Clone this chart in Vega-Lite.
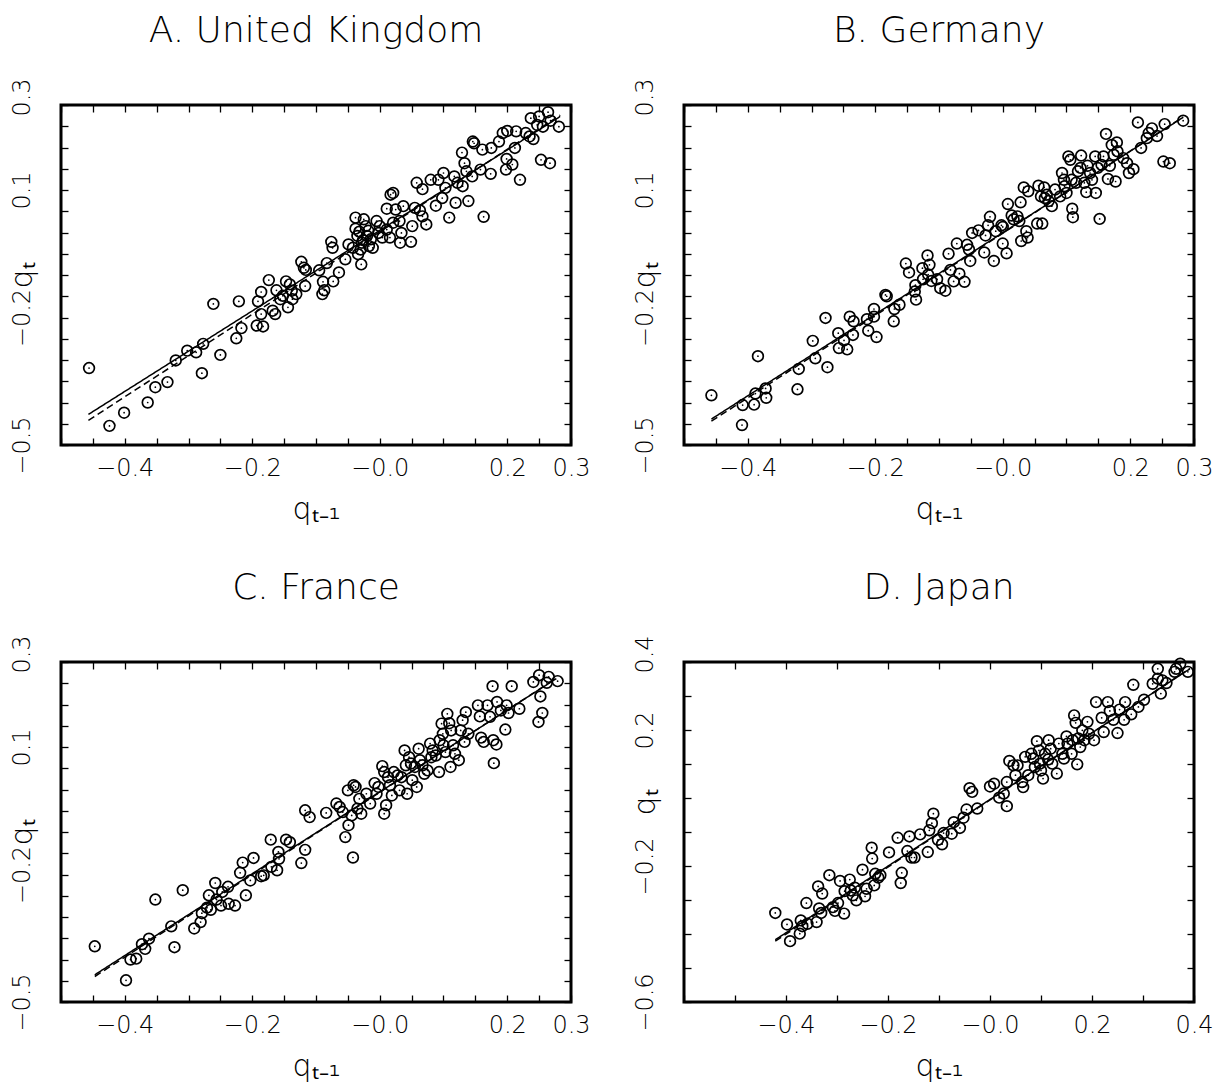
{
  "$schema": "https://vega.github.io/schema/vega-lite/v6.json",
  "background": "white",
  "padding": {"left": 5, "top": 11, "right": 5, "bottom": 2},
  "config": {
    "font": "DejaVu Sans",
    "view": {"stroke": "black", "strokeWidth": 3},
    "axis": {"domain": false, "grid": false, "tickColor": "black", "tickWidth": 1.3, "tickSize": -7, "labelFont": "DejaVu Sans", "labelFontSize": 24, "labelFontWeight": 200, "labelColor": "black", "titleFont": "DejaVu Sans", "titleFontSize": 30, "titleFontWeight": 200, "titleColor": "black", "labelFlush": false, "labelOverlap": false, "labelBound": false},
    "title": {"font": "DejaVu Sans", "fontSize": 36, "fontWeight": 200, "color": "black", "anchor": "middle", "frame": "group", "offset": 28},
    "line": {"color": "black", "strokeWidth": 1.5}
  },
  "columns": 2,
  "spacing": {"row": 217, "column": 113},
  "bounds": "flush",
  "datasets": {
    "uk": [{"x":-0.456,"y":-0.319},{"x":-0.424,"y":-0.455},{"x":-0.401,"y":-0.424},{"x":-0.364,"y":-0.4},{"x":-0.352,"y":-0.364},{"x":-0.333,"y":-0.352},{"x":-0.32,"y":-0.301},{"x":-0.302,"y":-0.278},{"x":-0.288,"y":-0.282},{"x":-0.277,"y":-0.262},{"x":-0.279,"y":-0.331},{"x":-0.25,"y":-0.288},{"x":-0.261,"y":-0.168},{"x":-0.221,"y":-0.162},{"x":-0.225,"y":-0.249},{"x":-0.217,"y":-0.225},{"x":-0.193,"y":-0.219},{"x":-0.183,"y":-0.221},{"x":-0.191,"y":-0.162},{"x":-0.186,"y":-0.192},{"x":-0.186,"y":-0.14},{"x":-0.174,"y":-0.112},{"x":-0.168,"y":-0.184},{"x":-0.164,"y":-0.192},{"x":-0.162,"y":-0.136},{"x":-0.156,"y":-0.157},{"x":-0.147,"y":-0.115},{"x":-0.144,"y":-0.176},{"x":-0.141,"y":-0.122},{"x":-0.138,"y":-0.137},{"x":-0.137,"y":-0.157},{"x":-0.152,"y":-0.149},{"x":-0.131,"y":-0.145},{"x":-0.123,"y":-0.069},{"x":-0.117,"y":-0.126},{"x":-0.119,"y":-0.083},{"x":-0.116,"y":-0.088},{"x":-0.095,"y":-0.089},{"x":-0.09,"y":-0.145},{"x":-0.087,"y":-0.136},{"x":-0.089,"y":-0.116},{"x":-0.083,"y":-0.072},{"x":-0.076,"y":-0.022},{"x":-0.074,"y":-0.036},{"x":-0.073,"y":-0.115},{"x":-0.064,"y":-0.094},{"x":-0.054,"y":-0.063},{"x":-0.049,"y":-0.028},{"x":-0.042,"y":-0.036},{"x":-0.038,"y":0.035},{"x":-0.038,"y":0.009},{"x":-0.035,"y":-0.008},{"x":-0.034,"y":-0.051},{"x":-0.029,"y":-0.075},{"x":-0.028,"y":-0.024},{"x":-0.025,"y":0.031},{"x":-0.022,"y":0.015},{"x":-0.02,"y":-0.008},{"x":-0.017,"y":-0.032},{"x":-0.014,"y":-0.016},{"x":-0.011,"y":-0.036},{"x":-0.005,"y":0.027},{"x":-0.002,"y":-0.001},{"x":0.004,"y":-0.012},{"x":0.011,"y":0.056},{"x":0.011,"y":0.007},{"x":0.016,"y":-0.012},{"x":0.017,"y":0.089},{"x":0.021,"y":0.093},{"x":0.021,"y":0.023},{"x":0.025,"y":0.054},{"x":0.031,"y":0.027},{"x":0.032,"y":-0.024},{"x":0.037,"y":0.062},{"x":0.034,"y":-0.001},{"x":0.049,"y":-0.022},{"x":0.051,"y":0.015},{"x":0.055,"y":0.058},{"x":0.058,"y":0.117},{"x":0.063,"y":0.052},{"x":0.067,"y":0.102},{"x":0.067,"y":0.038},{"x":0.073,"y":0.019},{"x":0.08,"y":0.124},{"x":0.088,"y":0.063},{"x":0.092,"y":0.124},{"x":0.1,"y":0.14},{"x":0.098,"y":0.081},{"x":0.103,"y":0.105},{"x":0.109,"y":0.035},{"x":0.117,"y":0.132},{"x":0.119,"y":0.07},{"x":0.122,"y":0.117},{"x":0.13,"y":0.109},{"x":0.129,"y":0.188},{"x":0.133,"y":0.163},{"x":0.136,"y":0.144},{"x":0.139,"y":0.074},{"x":0.146,"y":0.214},{"x":0.148,"y":0.21},{"x":0.145,"y":0.132},{"x":0.161,"y":0.195},{"x":0.163,"y":0.037},{"x":0.158,"y":0.148},{"x":0.174,"y":0.138},{"x":0.175,"y":0.199},{"x":0.187,"y":0.214},{"x":0.193,"y":0.234},{"x":0.2,"y":0.239},{"x":0.199,"y":0.173},{"x":0.198,"y":0.148},{"x":0.208,"y":0.16},{"x":0.214,"y":0.238},{"x":0.212,"y":0.199},{"x":0.22,"y":0.124},{"x":0.229,"y":0.234},{"x":0.235,"y":0.226},{"x":0.237,"y":0.269},{"x":0.241,"y":0.22},{"x":0.247,"y":0.253},{"x":0.25,"y":0.273},{"x":0.253,"y":0.171},{"x":0.264,"y":0.283},{"x":0.268,"y":0.263},{"x":0.267,"y":0.163},{"x":0.281,"y":0.249},{"x":0.256,"y":0.249},{"x":-0.032,"y":0.002},{"x":-0.026,"y":-0.018},{"x":-0.018,"y":0.004},{"x":-0.03,"y":-0.04},{"x":0.0,"y":0.015}],
    "uk_fit": [{"x":-0.457,"y":-0.428,"model":"linear"},{"x":0.283,"y":0.273,"model":"linear"},{"x":-0.457,"y":-0.442,"model":"nonlinear"},{"x":0.283,"y":0.276,"model":"nonlinear"}],
    "de": [{"x":-0.457,"y":-0.383},{"x":-0.409,"y":-0.453},{"x":-0.408,"y":-0.406},{"x":-0.39,"y":-0.405},{"x":-0.388,"y":-0.379},{"x":-0.384,"y":-0.291},{"x":-0.372,"y":-0.367},{"x":-0.371,"y":-0.389},{"x":-0.322,"y":-0.369},{"x":-0.32,"y":-0.321},{"x":-0.298,"y":-0.255},{"x":-0.294,"y":-0.296},{"x":-0.278,"y":-0.201},{"x":-0.275,"y":-0.317},{"x":-0.258,"y":-0.237},{"x":-0.257,"y":-0.272},{"x":-0.249,"y":-0.254},{"x":-0.244,"y":-0.275},{"x":-0.24,"y":-0.198},{"x":-0.235,"y":-0.241},{"x":-0.234,"y":-0.209},{"x":-0.213,"y":-0.204},{"x":-0.211,"y":-0.231},{"x":-0.202,"y":-0.18},{"x":-0.198,"y":-0.246},{"x":-0.202,"y":-0.198},{"x":-0.184,"y":-0.147},{"x":-0.182,"y":-0.15},{"x":-0.171,"y":-0.209},{"x":-0.17,"y":-0.18},{"x":-0.162,"y":-0.17},{"x":-0.152,"y":-0.073},{"x":-0.147,"y":-0.094},{"x":-0.138,"y":-0.139},{"x":-0.136,"y":-0.158},{"x":-0.137,"y":-0.124},{"x":-0.126,"y":-0.084},{"x":-0.125,"y":-0.11},{"x":-0.118,"y":-0.054},{"x":-0.115,"y":-0.076},{"x":-0.117,"y":-0.099},{"x":-0.112,"y":-0.114},{"x":-0.103,"y":-0.11},{"x":-0.098,"y":-0.131},{"x":-0.09,"y":-0.137},{"x":-0.085,"y":-0.05},{"x":-0.082,"y":-0.088},{"x":-0.077,"y":-0.115},{"x":-0.072,"y":-0.026},{"x":-0.068,"y":-0.097},{"x":-0.06,"y":-0.116},{"x":-0.056,"y":-0.029},{"x":-0.053,"y":-0.04},{"x":-0.051,"y":-0.067},{"x":-0.048,"y":-0.001},{"x":-0.038,"y":0.005},{"x":-0.029,"y":-0.047},{"x":-0.027,"y":-0.007},{"x":-0.023,"y":0.017},{"x":-0.02,"y":0.037},{"x":-0.014,"y":-0.067},{"x":-0.011,"y":0.003},{"x":-0.002,"y":0.017},{"x":0.0,"y":0.013},{"x":0.0,"y":-0.026},{"x":0.006,"y":-0.049},{"x":0.008,"y":0.067},{"x":0.014,"y":0.04},{"x":0.017,"y":0.031},{"x":0.023,"y":0.038},{"x":0.026,"y":0.027},{"x":0.028,"y":0.071},{"x":0.029,"y":-0.02},{"x":0.033,"y":0.106},{"x":0.037,"y":0.003},{"x":0.04,"y":0.097},{"x":0.039,"y":-0.012},{"x":0.054,"y":0.021},{"x":0.056,"y":0.11},{"x":0.06,"y":0.085},{"x":0.062,"y":0.021},{"x":0.065,"y":0.106},{"x":0.066,"y":0.081},{"x":0.069,"y":0.089},{"x":0.072,"y":0.074},{"x":0.077,"y":0.062},{"x":0.082,"y":0.101},{"x":0.09,"y":0.085},{"x":0.093,"y":0.14},{"x":0.096,"y":0.124},{"x":0.097,"y":0.109},{"x":0.1,"y":0.093},{"x":0.103,"y":0.179},{"x":0.106,"y":0.171},{"x":0.108,"y":0.124},{"x":0.109,"y":0.056},{"x":0.11,"y":0.036},{"x":0.115,"y":0.117},{"x":0.118,"y":0.144},{"x":0.122,"y":0.152},{"x":0.123,"y":0.181},{"x":0.128,"y":0.117},{"x":0.131,"y":0.095},{"x":0.133,"y":0.157},{"x":0.137,"y":0.14},{"x":0.14,"y":0.124},{"x":0.145,"y":0.179},{"x":0.146,"y":0.093},{"x":0.149,"y":0.152},{"x":0.152,"y":0.032},{"x":0.155,"y":0.159},{"x":0.158,"y":0.179},{"x":0.162,"y":0.232},{"x":0.165,"y":0.126},{"x":0.168,"y":0.157},{"x":0.171,"y":0.206},{"x":0.174,"y":0.183},{"x":0.177,"y":0.12},{"x":0.179,"y":0.212},{"x":0.18,"y":0.191},{"x":0.189,"y":0.175},{"x":0.195,"y":0.163},{"x":0.198,"y":0.14},{"x":0.205,"y":0.149},{"x":0.212,"y":0.259},{"x":0.217,"y":0.199},{"x":0.226,"y":0.222},{"x":0.229,"y":0.234},{"x":0.234,"y":0.245},{"x":0.242,"y":0.227},{"x":0.252,"y":0.167},{"x":0.254,"y":0.255},{"x":0.262,"y":0.163},{"x":0.283,"y":0.263}],
    "de_fit": [{"x":-0.457,"y":-0.439,"model":"linear"},{"x":0.283,"y":0.271,"model":"linear"},{"x":-0.457,"y":-0.444,"model":"nonlinear"},{"x":0.283,"y":0.272,"model":"nonlinear"}],
    "fr": [{"x":-0.447,"y":-0.369},{"x":-0.398,"y":-0.449},{"x":-0.391,"y":-0.4},{"x":-0.382,"y":-0.398},{"x":-0.373,"y":-0.364},{"x":-0.368,"y":-0.375},{"x":-0.362,"y":-0.351},{"x":-0.352,"y":-0.259},{"x":-0.327,"y":-0.322},{"x":-0.322,"y":-0.371},{"x":-0.309,"y":-0.237},{"x":-0.291,"y":-0.327},{"x":-0.281,"y":-0.312},{"x":-0.279,"y":-0.291},{"x":-0.271,"y":-0.278},{"x":-0.268,"y":-0.249},{"x":-0.265,"y":-0.283},{"x":-0.258,"y":-0.22},{"x":-0.256,"y":-0.259},{"x":-0.249,"y":-0.273},{"x":-0.247,"y":-0.241},{"x":-0.238,"y":-0.229},{"x":-0.237,"y":-0.269},{"x":-0.227,"y":-0.273},{"x":-0.219,"y":-0.196},{"x":-0.215,"y":-0.172},{"x":-0.21,"y":-0.249},{"x":-0.203,"y":-0.214},{"x":-0.198,"y":-0.161},{"x":-0.186,"y":-0.204},{"x":-0.182,"y":-0.202},{"x":-0.171,"y":-0.118},{"x":-0.17,"y":-0.182},{"x":-0.161,"y":-0.19},{"x":-0.159,"y":-0.147},{"x":-0.158,"y":-0.163},{"x":-0.147,"y":-0.118},{"x":-0.141,"y":-0.124},{"x":-0.123,"y":-0.173},{"x":-0.117,"y":-0.142},{"x":-0.117,"y":-0.049},{"x":-0.11,"y":-0.065},{"x":-0.084,"y":-0.055},{"x":-0.068,"y":-0.033},{"x":-0.063,"y":-0.041},{"x":-0.058,"y":-0.053},{"x":-0.054,"y":-0.112},{"x":-0.05,"y":-0.002},{"x":-0.049,"y":-0.084},{"x":-0.044,"y":-0.061},{"x":-0.041,"y":0.01},{"x":-0.038,"y":0.006},{"x":-0.035,"y":-0.045},{"x":-0.032,"y":-0.022},{"x":-0.029,"y":-0.057},{"x":-0.042,"y":-0.16},{"x":-0.021,"y":-0.01},{"x":-0.015,"y":-0.033},{"x":-0.008,"y":0.015},{"x":-0.005,"y":-0.01},{"x":-0.002,"y":0.006},{"x":0.004,"y":0.055},{"x":0.007,"y":0.041},{"x":0.007,"y":-0.057},{"x":0.01,"y":-0.037},{"x":0.013,"y":0.029},{"x":0.016,"y":0.01},{"x":0.019,"y":-0.014},{"x":0.022,"y":0.041},{"x":0.028,"y":0.033},{"x":0.031,"y":-0.002},{"x":0.034,"y":0.029},{"x":0.039,"y":0.092},{"x":0.041,"y":0.057},{"x":0.043,"y":-0.01},{"x":0.046,"y":0.076},{"x":0.049,"y":0.061},{"x":0.051,"y":0.022},{"x":0.055,"y":0.053},{"x":0.058,"y":0.006},{"x":0.061,"y":0.096},{"x":0.063,"y":0.069},{"x":0.067,"y":0.057},{"x":0.07,"y":0.037},{"x":0.075,"y":0.045},{"x":0.079,"y":0.108},{"x":0.081,"y":0.076},{"x":0.083,"y":0.092},{"x":0.088,"y":0.08},{"x":0.093,"y":0.041},{"x":0.094,"y":0.116},{"x":0.097,"y":0.155},{"x":0.099,"y":0.131},{"x":0.1,"y":0.104},{"x":0.103,"y":0.088},{"x":0.106,"y":0.178},{"x":0.109,"y":0.156},{"x":0.111,"y":0.053},{"x":0.112,"y":0.139},{"x":0.115,"y":0.104},{"x":0.118,"y":0.084},{"x":0.124,"y":0.069},{"x":0.127,"y":0.139},{"x":0.13,"y":0.163},{"x":0.133,"y":0.112},{"x":0.135,"y":0.182},{"x":0.139,"y":0.131},{"x":0.154,"y":0.198},{"x":0.157,"y":0.172},{"x":0.159,"y":0.122},{"x":0.163,"y":0.112},{"x":0.169,"y":0.198},{"x":0.173,"y":0.171},{"x":0.177,"y":0.243},{"x":0.178,"y":0.116},{"x":0.179,"y":0.062},{"x":0.183,"y":0.106},{"x":0.184,"y":0.206},{"x":0.19,"y":0.186},{"x":0.197,"y":0.141},{"x":0.199,"y":0.198},{"x":0.202,"y":0.18},{"x":0.207,"y":0.243},{"x":0.219,"y":0.19},{"x":0.241,"y":0.253},{"x":0.249,"y":0.159},{"x":0.25,"y":0.269},{"x":0.252,"y":0.219},{"x":0.255,"y":0.18},{"x":0.262,"y":0.251},{"x":0.265,"y":0.265},{"x":0.279,"y":0.255}],
    "fr_fit": [{"x":-0.447,"y":-0.436,"model":"linear"},{"x":0.277,"y":0.261,"model":"linear"},{"x":-0.447,"y":-0.44,"model":"nonlinear"},{"x":0.277,"y":0.262,"model":"nonlinear"}],
    "jp": [{"x":-0.421,"y":-0.338},{"x":-0.398,"y":-0.372},{"x":-0.392,"y":-0.421},{"x":-0.373,"y":-0.399},{"x":-0.371,"y":-0.36},{"x":-0.368,"y":-0.377},{"x":-0.36,"y":-0.309},{"x":-0.358,"y":-0.37},{"x":-0.34,"y":-0.365},{"x":-0.337,"y":-0.26},{"x":-0.335,"y":-0.325},{"x":-0.331,"y":-0.338},{"x":-0.329,"y":-0.281},{"x":-0.315,"y":-0.227},{"x":-0.308,"y":-0.321},{"x":-0.304,"y":-0.332},{"x":-0.298,"y":-0.309},{"x":-0.294,"y":-0.244},{"x":-0.286,"y":-0.34},{"x":-0.285,"y":-0.274},{"x":-0.275,"y":-0.24},{"x":-0.273,"y":-0.272},{"x":-0.269,"y":-0.286},{"x":-0.265,"y":-0.264},{"x":-0.262,"y":-0.301},{"x":-0.25,"y":-0.211},{"x":-0.245,"y":-0.289},{"x":-0.242,"y":-0.267},{"x":-0.232,"y":-0.146},{"x":-0.231,"y":-0.178},{"x":-0.227,"y":-0.257},{"x":-0.225,"y":-0.223},{"x":-0.219,"y":-0.234},{"x":-0.215,"y":-0.227},{"x":-0.198,"y":-0.16},{"x":-0.181,"y":-0.117},{"x":-0.175,"y":-0.25},{"x":-0.173,"y":-0.22},{"x":-0.162,"y":-0.156},{"x":-0.158,"y":-0.113},{"x":-0.154,"y":-0.175},{"x":-0.148,"y":-0.175},{"x":-0.137,"y":-0.107},{"x":-0.122,"y":-0.159},{"x":-0.119,"y":-0.095},{"x":-0.114,"y":-0.074},{"x":-0.111,"y":-0.046},{"x":-0.102,"y":-0.123},{"x":-0.094,"y":-0.136},{"x":-0.091,"y":-0.103},{"x":-0.075,"y":-0.105},{"x":-0.071,"y":-0.071},{"x":-0.059,"y":-0.088},{"x":-0.052,"y":-0.058},{"x":-0.046,"y":-0.034},{"x":-0.04,"y":0.029},{"x":-0.035,"y":0.018},{"x":-0.025,"y":-0.031},{"x":0.0,"y":0.034},{"x":0.008,"y":0.042},{"x":0.018,"y":0.001},{"x":0.027,"y":0.013},{"x":0.033,"y":0.047},{"x":0.033,"y":-0.024},{"x":0.038,"y":0.109},{"x":0.046,"y":0.096},{"x":0.05,"y":0.067},{"x":0.054,"y":0.096},{"x":0.063,"y":0.047},{"x":0.065,"y":0.032},{"x":0.069,"y":0.121},{"x":0.075,"y":0.067},{"x":0.081,"y":0.13},{"x":0.085,"y":0.116},{"x":0.088,"y":0.091},{"x":0.092,"y":0.167},{"x":0.096,"y":0.14},{"x":0.098,"y":0.101},{"x":0.104,"y":0.057},{"x":0.1,"y":0.081},{"x":0.108,"y":0.13},{"x":0.114,"y":0.113},{"x":0.115,"y":0.17},{"x":0.119,"y":0.145},{"x":0.122,"y":0.101},{"x":0.131,"y":0.072},{"x":0.135,"y":0.16},{"x":0.142,"y":0.13},{"x":0.145,"y":0.116},{"x":0.15,"y":0.181},{"x":0.152,"y":0.16},{"x":0.16,"y":0.13},{"x":0.162,"y":0.17},{"x":0.165,"y":0.243},{"x":0.168,"y":0.221},{"x":0.171,"y":0.099},{"x":0.173,"y":0.175},{"x":0.177,"y":0.15},{"x":0.181,"y":0.199},{"x":0.185,"y":0.17},{"x":0.191,"y":0.224},{"x":0.194,"y":0.189},{"x":0.204,"y":0.17},{"x":0.208,"y":0.282},{"x":0.219,"y":0.236},{"x":0.223,"y":0.194},{"x":0.231,"y":0.282},{"x":0.235,"y":0.256},{"x":0.242,"y":0.23},{"x":0.25,"y":0.191},{"x":0.254,"y":0.26},{"x":0.265,"y":0.282},{"x":0.263,"y":0.23},{"x":0.277,"y":0.246},{"x":0.281,"y":0.333},{"x":0.291,"y":0.268},{"x":0.302,"y":0.289},{"x":0.319,"y":0.336},{"x":0.329,"y":0.38},{"x":0.335,"y":0.307},{"x":0.338,"y":0.346},{"x":0.346,"y":0.338},{"x":0.362,"y":0.371},{"x":0.373,"y":0.395},{"x":0.388,"y":0.371},{"x":0.365,"y":0.38},{"x":0.329,"y":0.351}],
    "jp_fit": [{"x":-0.421,"y":-0.417,"model":"linear"},{"x":0.392,"y":0.38,"model":"linear"},{"x":-0.421,"y":-0.421,"model":"nonlinear"},{"x":0.392,"y":0.381,"model":"nonlinear"}]
  },
  "concat": [
    {
      "width": 510, "height": 340,
      "title": "A. United Kingdom",
      "resolve": {"axis": {"x": "independent", "y": "independent"}},
      "layer": [
        {"data": {"name": "uk"}, "mark": {"type": "point", "shape": "circle", "filled": false, "size": 115, "stroke": "black", "strokeWidth": 1.7, "opacity": 1},
         "encoding": {
           "x": {"field": "x", "type": "quantitative", "scale": {"domain": [-0.5, 0.3], "nice": false, "zero": false},
                 "axis": {"orient": "bottom", "values": [-0.5,-0.45,-0.4,-0.35,-0.3,-0.25,-0.2,-0.15,-0.1,-0.05,0,0.05,0.1,0.15,0.2,0.25,0.3], "labelExpr": "datum.value == -0.4 ? '−0.4' : datum.value == -0.2 ? '−0.2' : datum.value == 0 ? '−0.0' : datum.value == 0.2 ? '0.2' : datum.value == 0.3 ? '0.3' : ''", "labelAngle": 0, "labelAlign": "center", "labelBaseline": "top", "labelPadding": 18, "title": "qₜ₋₁", "titleX": 255, "titleY": 73, "titleAlign": "center", "titleBaseline": "alphabetic"}},
           "y": {"field": "y", "type": "quantitative", "scale": {"domain": [-0.5, 0.3], "nice": false, "zero": false},
                 "axis": {"orient": "left", "values": [-0.5,-0.45,-0.4,-0.35,-0.3,-0.25,-0.2,-0.15,-0.1,-0.05,0,0.05,0.1,0.15,0.2,0.25,0.3], "labelExpr": "datum.value == 0.3 ? '0.3' : datum.value == 0.1 ? '0.1' : datum.value == -0.2 ? '−0.2' : datum.value == -0.5 ? '−0.5' : ''", "labelAngle": -90, "labelAlign": "center", "labelOffset": {"condition": {"test": "datum.value == 0.3", "value": -8}, "value": 0}, "labelBaseline": "bottom", "labelPadding": 34, "title": "qₜ", "titleAngle": -90, "titleX": -30, "titleY": 170, "titleAlign": "center", "titleBaseline": "alphabetic"}}
         }},
        {"data": {"name": "uk"}, "mark": {"type": "point", "shape": "circle", "filled": true, "size": 3, "color": "black", "opacity": 1},
         "encoding": {
           "x": {"field": "x", "type": "quantitative", "axis": {"orient": "top", "values": [-0.5,-0.45,-0.4,-0.35,-0.3,-0.25,-0.2,-0.15,-0.1,-0.05,0,0.05,0.1,0.15,0.2,0.25,0.3], "labels": false, "title": null}},
           "y": {"field": "y", "type": "quantitative", "axis": {"orient": "right", "values": [-0.5,-0.45,-0.4,-0.35,-0.3,-0.25,-0.2,-0.15,-0.1,-0.05,0,0.05,0.1,0.15,0.2,0.25,0.3], "labels": false, "title": null}}
         }},
        {"data": {"name": "uk_fit"}, "mark": {"type": "line", "color": "black", "strokeWidth": 1.5},
         "encoding": {
           "x": {"field": "x", "type": "quantitative", "axis": null},
           "y": {"field": "y", "type": "quantitative", "axis": null},
           "strokeDash": {"field": "model", "type": "nominal", "scale": {"domain": ["linear", "nonlinear"], "range": [[1, 0], [7, 4]]}, "legend": null}
         }}
      ]
    },
    {
      "width": 510, "height": 340,
      "title": "B. Germany",
      "resolve": {"axis": {"x": "independent", "y": "independent"}},
      "layer": [
        {"data": {"name": "de"}, "mark": {"type": "point", "shape": "circle", "filled": false, "size": 115, "stroke": "black", "strokeWidth": 1.7, "opacity": 1},
         "encoding": {
           "x": {"field": "x", "type": "quantitative", "scale": {"domain": [-0.5, 0.3], "nice": false, "zero": false},
                 "axis": {"orient": "bottom", "values": [-0.5,-0.45,-0.4,-0.35,-0.3,-0.25,-0.2,-0.15,-0.1,-0.05,0,0.05,0.1,0.15,0.2,0.25,0.3], "labelExpr": "datum.value == -0.4 ? '−0.4' : datum.value == -0.2 ? '−0.2' : datum.value == 0 ? '−0.0' : datum.value == 0.2 ? '0.2' : datum.value == 0.3 ? '0.3' : ''", "labelAngle": 0, "labelAlign": "center", "labelBaseline": "top", "labelPadding": 18, "title": "qₜ₋₁", "titleX": 255, "titleY": 73, "titleAlign": "center", "titleBaseline": "alphabetic"}},
           "y": {"field": "y", "type": "quantitative", "scale": {"domain": [-0.5, 0.3], "nice": false, "zero": false},
                 "axis": {"orient": "left", "values": [-0.5,-0.45,-0.4,-0.35,-0.3,-0.25,-0.2,-0.15,-0.1,-0.05,0,0.05,0.1,0.15,0.2,0.25,0.3], "labelExpr": "datum.value == 0.3 ? '0.3' : datum.value == 0.1 ? '0.1' : datum.value == -0.2 ? '−0.2' : datum.value == -0.5 ? '−0.5' : ''", "labelAngle": -90, "labelAlign": "center", "labelOffset": {"condition": {"test": "datum.value == 0.3", "value": -8}, "value": 0}, "labelBaseline": "bottom", "labelPadding": 34, "title": "qₜ", "titleAngle": -90, "titleX": -30, "titleY": 170, "titleAlign": "center", "titleBaseline": "alphabetic"}}
         }},
        {"data": {"name": "de"}, "mark": {"type": "point", "shape": "circle", "filled": true, "size": 3, "color": "black", "opacity": 1},
         "encoding": {
           "x": {"field": "x", "type": "quantitative", "axis": {"orient": "top", "values": [-0.5,-0.45,-0.4,-0.35,-0.3,-0.25,-0.2,-0.15,-0.1,-0.05,0,0.05,0.1,0.15,0.2,0.25,0.3], "labels": false, "title": null}},
           "y": {"field": "y", "type": "quantitative", "axis": {"orient": "right", "values": [-0.5,-0.45,-0.4,-0.35,-0.3,-0.25,-0.2,-0.15,-0.1,-0.05,0,0.05,0.1,0.15,0.2,0.25,0.3], "labels": false, "title": null}}
         }},
        {"data": {"name": "de_fit"}, "mark": {"type": "line", "color": "black", "strokeWidth": 1.5},
         "encoding": {
           "x": {"field": "x", "type": "quantitative", "axis": null},
           "y": {"field": "y", "type": "quantitative", "axis": null},
           "strokeDash": {"field": "model", "type": "nominal", "scale": {"domain": ["linear", "nonlinear"], "range": [[1, 0], [7, 4]]}, "legend": null}
         }}
      ]
    },
    {
      "width": 510, "height": 340,
      "title": "C. France",
      "resolve": {"axis": {"x": "independent", "y": "independent"}},
      "layer": [
        {"data": {"name": "fr"}, "mark": {"type": "point", "shape": "circle", "filled": false, "size": 115, "stroke": "black", "strokeWidth": 1.7, "opacity": 1},
         "encoding": {
           "x": {"field": "x", "type": "quantitative", "scale": {"domain": [-0.5, 0.3], "nice": false, "zero": false},
                 "axis": {"orient": "bottom", "values": [-0.5,-0.45,-0.4,-0.35,-0.3,-0.25,-0.2,-0.15,-0.1,-0.05,0,0.05,0.1,0.15,0.2,0.25,0.3], "labelExpr": "datum.value == -0.4 ? '−0.4' : datum.value == -0.2 ? '−0.2' : datum.value == 0 ? '−0.0' : datum.value == 0.2 ? '0.2' : datum.value == 0.3 ? '0.3' : ''", "labelAngle": 0, "labelAlign": "center", "labelBaseline": "top", "labelPadding": 18, "title": "qₜ₋₁", "titleX": 255, "titleY": 73, "titleAlign": "center", "titleBaseline": "alphabetic"}},
           "y": {"field": "y", "type": "quantitative", "scale": {"domain": [-0.5, 0.3], "nice": false, "zero": false},
                 "axis": {"orient": "left", "values": [-0.5,-0.45,-0.4,-0.35,-0.3,-0.25,-0.2,-0.15,-0.1,-0.05,0,0.05,0.1,0.15,0.2,0.25,0.3], "labelExpr": "datum.value == 0.3 ? '0.3' : datum.value == 0.1 ? '0.1' : datum.value == -0.2 ? '−0.2' : datum.value == -0.5 ? '−0.5' : ''", "labelAngle": -90, "labelAlign": "center", "labelOffset": {"condition": {"test": "datum.value == 0.3", "value": -8}, "value": 0}, "labelBaseline": "bottom", "labelPadding": 34, "title": "qₜ", "titleAngle": -90, "titleX": -30, "titleY": 170, "titleAlign": "center", "titleBaseline": "alphabetic"}}
         }},
        {"data": {"name": "fr"}, "mark": {"type": "point", "shape": "circle", "filled": true, "size": 3, "color": "black", "opacity": 1},
         "encoding": {
           "x": {"field": "x", "type": "quantitative", "axis": {"orient": "top", "values": [-0.5,-0.45,-0.4,-0.35,-0.3,-0.25,-0.2,-0.15,-0.1,-0.05,0,0.05,0.1,0.15,0.2,0.25,0.3], "labels": false, "title": null}},
           "y": {"field": "y", "type": "quantitative", "axis": {"orient": "right", "values": [-0.5,-0.45,-0.4,-0.35,-0.3,-0.25,-0.2,-0.15,-0.1,-0.05,0,0.05,0.1,0.15,0.2,0.25,0.3], "labels": false, "title": null}}
         }},
        {"data": {"name": "fr_fit"}, "mark": {"type": "line", "color": "black", "strokeWidth": 1.5},
         "encoding": {
           "x": {"field": "x", "type": "quantitative", "axis": null},
           "y": {"field": "y", "type": "quantitative", "axis": null},
           "strokeDash": {"field": "model", "type": "nominal", "scale": {"domain": ["linear", "nonlinear"], "range": [[1, 0], [7, 4]]}, "legend": null}
         }}
      ]
    },
    {
      "width": 510, "height": 340,
      "title": "D. Japan",
      "resolve": {"axis": {"x": "independent", "y": "independent"}},
      "layer": [
        {"data": {"name": "jp"}, "mark": {"type": "point", "shape": "circle", "filled": false, "size": 115, "stroke": "black", "strokeWidth": 1.7, "opacity": 1},
         "encoding": {
           "x": {"field": "x", "type": "quantitative", "scale": {"domain": [-0.6, 0.4], "nice": false, "zero": false},
                 "axis": {"orient": "bottom", "values": [-0.6,-0.5,-0.4,-0.3,-0.2,-0.1,0,0.1,0.2,0.3,0.4], "labelExpr": "datum.value == -0.4 ? '−0.4' : datum.value == -0.2 ? '−0.2' : datum.value == 0 ? '−0.0' : datum.value == 0.2 ? '0.2' : datum.value == 0.4 ? '0.4' : ''", "labelAngle": 0, "labelAlign": "center", "labelBaseline": "top", "labelPadding": 18, "title": "qₜ₋₁", "titleX": 255, "titleY": 73, "titleAlign": "center", "titleBaseline": "alphabetic"}},
           "y": {"field": "y", "type": "quantitative", "scale": {"domain": [-0.6, 0.4], "nice": false, "zero": false},
                 "axis": {"orient": "left", "values": [-0.6,-0.5,-0.4,-0.3,-0.2,-0.1,0,0.1,0.2,0.3,0.4], "labelExpr": "datum.value == 0.4 ? '0.4' : datum.value == 0.2 ? '0.2' : datum.value == -0.2 ? '−0.2' : datum.value == -0.6 ? '−0.6' : ''", "labelAngle": -90, "labelAlign": "center", "labelOffset": {"condition": {"test": "datum.value == 0.4", "value": -8}, "value": 0}, "labelBaseline": "bottom", "labelPadding": 34, "title": "qₜ", "titleAngle": -90, "titleX": -30, "titleY": 140, "titleAlign": "center", "titleBaseline": "alphabetic"}}
         }},
        {"data": {"name": "jp"}, "mark": {"type": "point", "shape": "circle", "filled": true, "size": 3, "color": "black", "opacity": 1},
         "encoding": {
           "x": {"field": "x", "type": "quantitative", "axis": {"orient": "top", "values": [-0.6,-0.5,-0.4,-0.3,-0.2,-0.1,0,0.1,0.2,0.3,0.4], "labels": false, "title": null}},
           "y": {"field": "y", "type": "quantitative", "axis": {"orient": "right", "values": [-0.6,-0.5,-0.4,-0.3,-0.2,-0.1,0,0.1,0.2,0.3,0.4], "labels": false, "title": null}}
         }},
        {"data": {"name": "jp_fit"}, "mark": {"type": "line", "color": "black", "strokeWidth": 1.5},
         "encoding": {
           "x": {"field": "x", "type": "quantitative", "axis": null},
           "y": {"field": "y", "type": "quantitative", "axis": null},
           "strokeDash": {"field": "model", "type": "nominal", "scale": {"domain": ["linear", "nonlinear"], "range": [[1, 0], [7, 4]]}, "legend": null}
         }}
      ]
    }
  ]
}
